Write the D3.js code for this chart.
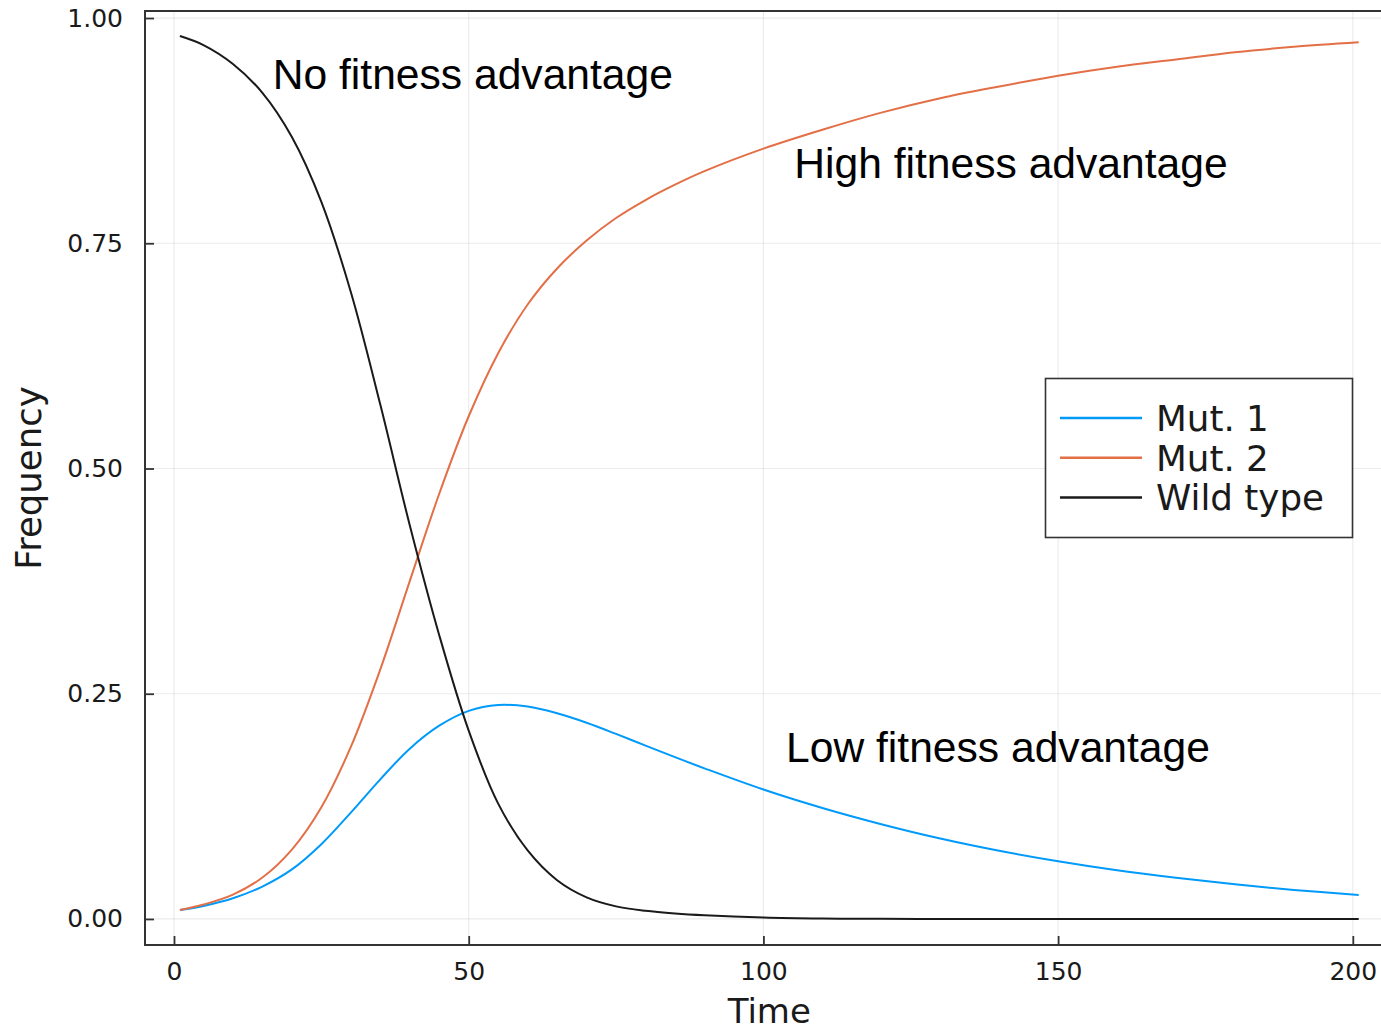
<!DOCTYPE html>
<html>
<head>
<meta charset="utf-8">
<script src="https://cdn.jsdelivr.net/npm/d3@7"></script>
<style>
  body { margin: 0; background: #ffffff; }
  svg { display: block; }
</style>
</head>
<body>
<svg id="chart" width="1381" height="1031"></svg>
<script>
// Time points (generations) and genotype frequencies
const time = [1, 5, 10, 15, 20, 25, 30, 35, 40, 45, 50, 55, 60, 65, 70, 75, 80, 85, 90,
              100, 110, 120, 130, 140, 150, 160, 170, 180, 190, 201];
const mut1 = [0.010, 0.0145, 0.023, 0.036, 0.055, 0.083, 0.118, 0.155, 0.189, 0.2145,
              0.231, 0.2375, 0.2357, 0.2283, 0.2178, 0.2054, 0.1924, 0.1796, 0.1672,
              0.1437, 0.1232, 0.1052, 0.0893, 0.0757, 0.0641, 0.0541, 0.0457, 0.0384, 0.0322, 0.0267];
const mut2 = [0.010, 0.016, 0.027, 0.046, 0.077, 0.124, 0.191, 0.277, 0.375, 0.472,
              0.558, 0.628, 0.682, 0.722, 0.753, 0.778, 0.798, 0.815, 0.830,
              0.855, 0.876, 0.895, 0.911, 0.924, 0.936, 0.946, 0.954, 0.962, 0.968, 0.973];
const wildType = [0.980, 0.970, 0.949, 0.917, 0.868, 0.796, 0.696, 0.571, 0.437, 0.315,
                  0.209, 0.128, 0.076, 0.043, 0.024, 0.014, 0.009, 0.006, 0.004,
                  0.0015, 0.0004, 0.0001, 0, 0, 0, 0, 0, 0, 0, 0];

const seriesNames = ["Mut. 1", "Mut. 2", "Wild type"];
const seriesColors = ["#009AFA", "#E36F47", "#1a1a1a"];

const xTicks = [0, 50, 100, 150, 200];
const yTicks = [0, 0.25, 0.5, 0.75, 1.0];

const annotationLabels = ["No fitness advantage", "High fitness advantage", "Low fitness advantage"];
const annotationTime = [50.7, 142.0, 139.8];
const annotationFreq = [0.938, 0.839, 0.190];

// Layout
const frame = { left: 145, top: 11, bottom: 945 };
const x = d3.scaleLinear().domain([-4.92, 206.92]).range([frame.left, 1393.6]);
const y = d3.scaleLinear().domain([-0.0289, 1.0078]).range([frame.bottom, frame.top]);
frame.right = x.range()[1];

const svg = d3.select("#chart");
const tickFont = "DejaVu Sans, Verdana, sans-serif";
const frameColor = "#333333";

// Grid
const grid = svg.append("g").attr("stroke", "#000").attr("stroke-opacity", 0.08).attr("stroke-width", 1.2);
grid.selectAll("line.vx").data(xTicks).join("line")
  .attr("x1", d => x(d)).attr("x2", d => x(d))
  .attr("y1", frame.top).attr("y2", frame.bottom);
grid.selectAll("line.hy").data(yTicks).join("line")
  .attr("x1", frame.left).attr("x2", frame.right)
  .attr("y1", d => y(d)).attr("y2", d => y(d));

// Series lines
const series = [mut1, mut2, wildType];
const line = d3.line()
  .x(d => x(d[0]))
  .y(d => y(d[1]))
  .curve(d3.curveCatmullRom.alpha(0.5));

svg.append("g").selectAll("path").data(series).join("path")
  .attr("d", vals => line(time.map((t, i) => [t, vals[i]])))
  .attr("fill", "none")
  .attr("stroke", (d, i) => seriesColors[i])
  .attr("stroke-width", 2)
  .attr("stroke-linejoin", "round");

// Axes
const yAxis = d3.axisLeft(y).tickValues(yTicks).tickFormat(d3.format(".2f"))
  .tickSizeInner(-9).tickSizeOuter(0).tickPadding(22);
const xAxis = d3.axisBottom(x).tickValues(xTicks).tickFormat(d3.format("d"))
  .tickSizeInner(-9).tickSizeOuter(0).tickPadding(17);

const gy = svg.append("g").attr("transform", `translate(${frame.left},0)`).call(yAxis);
const gx = svg.append("g").attr("transform", `translate(0,${frame.bottom})`).call(xAxis);
[gx, gy].forEach(g => {
  g.select(".domain").remove();
  g.selectAll(".tick line").attr("stroke", frameColor).attr("stroke-width", 1.8);
  g.selectAll(".tick text").attr("fill", "#1a1a1a")
    .style("font-family", tickFont).style("font-size", "25px");
});

// Frame box
svg.append("rect")
  .attr("x", frame.left).attr("y", frame.top)
  .attr("width", frame.right - frame.left).attr("height", frame.bottom - frame.top)
  .attr("fill", "none").attr("stroke", frameColor).attr("stroke-width", 2);

// Axis titles
svg.append("text")
  .attr("x", (frame.left + frame.right) / 2).attr("y", 1023)
  .attr("text-anchor", "middle")
  .style("font-family", tickFont).style("font-size", "34px").attr("fill", "#1a1a1a")
  .text("Time");
svg.append("text")
  .attr("transform", `translate(41,${(frame.top + frame.bottom) / 2}) rotate(-90)`)
  .attr("text-anchor", "middle")
  .style("font-family", tickFont).style("font-size", "35.5px").attr("fill", "#1a1a1a")
  .text("Frequency");

// Annotations
svg.append("g").selectAll("text").data(annotationLabels).join("text")
  .attr("x", (d, i) => x(annotationTime[i]))
  .attr("y", (d, i) => y(annotationFreq[i]))
  .attr("dy", "0.344em")
  .attr("text-anchor", "middle")
  .style("font-family", "Liberation Sans, Arial, sans-serif")
  .style("font-size", "42.6px")
  .attr("fill", "#000")
  .text(d => d);

// Legend
const legend = svg.append("g");
legend.append("rect")
  .attr("x", 1045.5).attr("y", 378.5).attr("width", 307).attr("height", 159)
  .attr("fill", "#fff").attr("stroke", frameColor).attr("stroke-width", 1.6);
const legendRows = legend.selectAll("g.row").data(seriesNames).join("g")
  .attr("transform", (d, i) => `translate(0,${418 + i * 39.7})`);
legendRows.append("line")
  .attr("x1", 1060).attr("x2", 1142).attr("y1", 0).attr("y2", 0)
  .attr("stroke", (d, i) => seriesColors[i]).attr("stroke-width", 2.5);
legendRows.append("text")
  .attr("x", 1156).attr("y", 13)
  .style("font-family", tickFont).style("font-size", "35.7px").attr("fill", "#1a1a1a")
  .text(d => d);
</script>
</body>
</html>
